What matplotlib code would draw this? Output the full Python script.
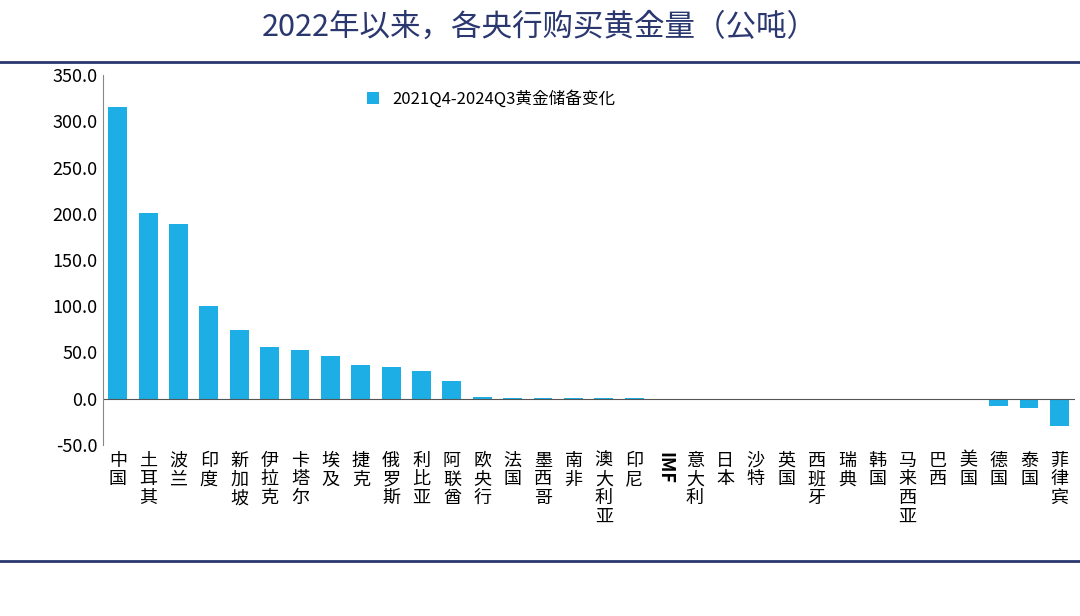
import matplotlib.pyplot as plt
import numpy as np
from matplotlib.lines import Line2D
from matplotlib import font_manager

# 找一个可用的中文字体
中文字体 = [f.name for f in font_manager.fontManager.ttflist if 'CJK' in f.name]
首选 = [n for n in ['Noto Sans CJK SC', 'Noto Sans CJK JP', 'Noto Sans CJK TC', 'Noto Sans CJK KR'] if n in 中文字体]
字体 = (首选 or 中文字体 or ['DejaVu Sans'])[0]
plt.rcParams['font.family'] = [字体, 'DejaVu Sans']

# 数据
国家 = ["中国", "土耳其", "波兰", "印度", "新加坡", "伊拉克", "卡塔尔", "埃及", "捷克", "俄罗斯",
      "利比亚", "阿联酋", "欧央行", "法国", "墨西哥", "南非", "澳大利亚", "印尼", "IMF", "意大利",
      "日本", "沙特", "英国", "西班牙", "瑞典", "韩国", "马来西亚", "巴西", "美国", "德国",
      "泰国", "菲律宾"]
变化 = [316, 201, 189, 100, 74, 56, 53, 46, 36, 34, 30, 19, 2, 1, 1, 0.8, 0.5, 0.3,
      0, 0, 0, 0, 0, 0, 0, 0, 0, -0.3, -1, -8, -10, -30]
y刻度 = [-50, 0, 50, 100, 150, 200, 250, 300, 350]

fig = plt.figure(figsize=(10.8, 6.16), dpi=100)
fig.text(0.5, 0.955, "2022年以来，各央行购买黄金量（公吨）", ha='center', va='center',
         fontsize=22, color='#2B3870')
fig.add_artist(Line2D([0, 1], [0.9, 0.9], color='#2B3870', lw=2))
fig.add_artist(Line2D([0, 1], [0.09, 0.09], color='#2B3870', lw=2))

ax = fig.add_axes([0.095, 0.278, 0.9, 0.6])
x = np.arange(len(国家))
ax.bar(x, 变化, width=0.62, color='#1CAEE4', label='2021Q4-2024Q3黄金储备变化')
ax.axhline(0, color='#555555', lw=0.8)
ax.set_xlim(-0.5, len(国家) - 0.5)
ax.set_ylim(-50, 350)
ax.set_yticks(y刻度)
ax.set_yticklabels([f"{v:.1f}" for v in y刻度], fontsize=13)
ax.set_xticks(x)
ax.set_xticklabels(["\n".join(n) if n != "IMF" else n for n in 国家], fontsize=13,
                   linespacing=1.05, va='top')
for lbl, n in zip(ax.get_xticklabels(), 国家):
    if n == "IMF":
        lbl.set_rotation(270)
        lbl.set_fontweight('bold')
ax.tick_params(axis='x', length=0, pad=5)
ax.tick_params(axis='y', length=0)
for s in ['top', 'right', 'bottom']:
    ax.spines[s].set_visible(False)
ax.spines['left'].set_color('#888888')
ax.legend(loc='upper center', bbox_to_anchor=(0.4, 1.0), frameon=False, fontsize=12,
          handlelength=0.7, handleheight=0.7)

plt.savefig("out.png", dpi=100)
